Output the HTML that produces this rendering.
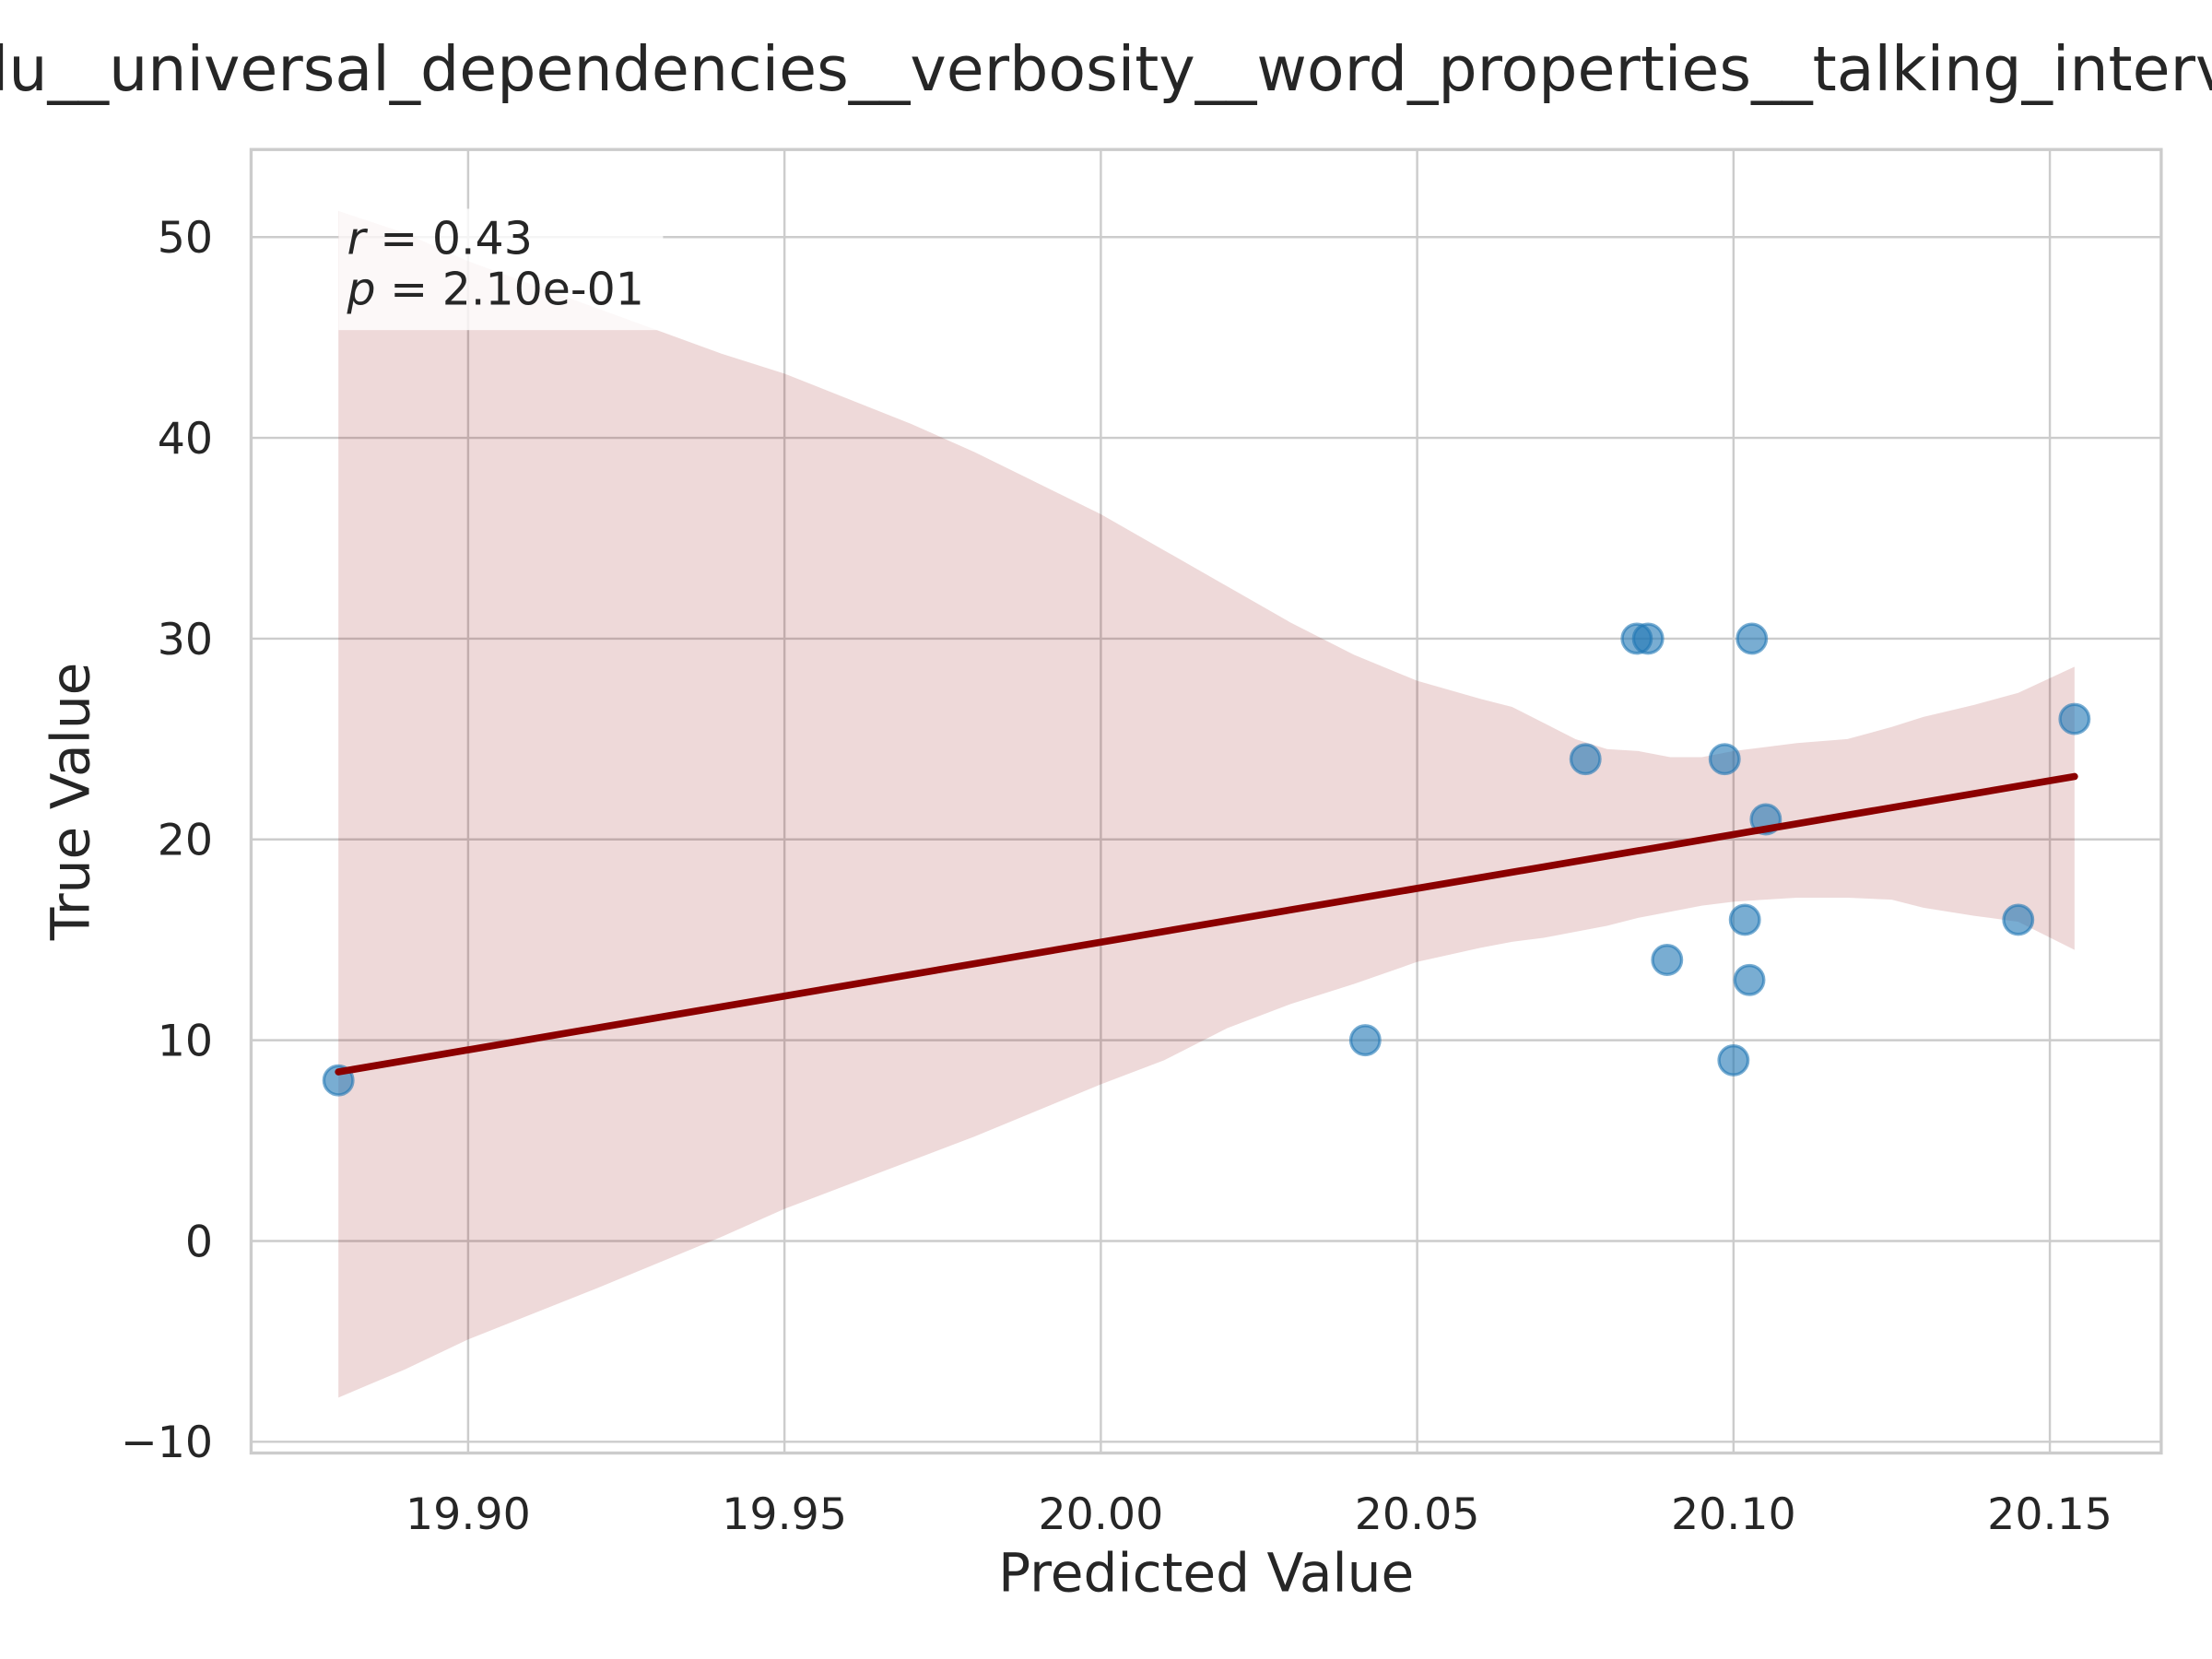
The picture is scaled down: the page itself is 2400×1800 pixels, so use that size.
<!DOCTYPE html>
<html><head><meta charset="utf-8"><style>
html,body{margin:0;padding:0;background:#fff;}
svg{display:block;font-family:"DejaVu Sans","Liberation Sans",sans-serif;}
</style></head><body>
<svg id="chart" width="2400" height="1800" viewBox="0 0 1568 1176" xmlns="http://www.w3.org/2000/svg">
<rect width="1568" height="1176" fill="#fff"/>
<text x="-6" y="64" font-size="43.5" fill="#262626">lu__universal_dependencies__verbosity__word_properties__talking_interval</text>
<g id="grid"></g>
<g id="band"></g>
<g id="points"></g>
<g id="fit"></g>
<rect x="178" y="106" width="1354" height="924" fill="none" stroke="#cccccc" stroke-width="2.2"/>
<g id="ticks"></g>
<rect x="240" y="148" width="230" height="86" fill="#fff" fill-opacity="0.8"/>
<text x="246" y="180" font-size="32" fill="#262626"><tspan font-style="italic">r</tspan> = 0.43</text>
<text x="246" y="216" font-size="32" fill="#262626"><tspan font-style="italic">p</tspan> = 2.10e-01</text>
<text x="855" y="1128" font-size="38" fill="#262626" text-anchor="middle">Predicted Value</text>
<text x="0" y="0" font-size="38" fill="#262626" text-anchor="middle" transform="translate(63,568) rotate(-90)">True Value</text>
</svg>
<script>
const predicted = [19.8795,20.0418,20.0766,20.0847,20.0865,20.0895,20.0986,20.1,20.1018,20.1025,20.1029,20.1051,20.145,20.1539];
const actual = [8,10,24,30,30,14,24,9,16,13,30,21,16,26];
const ciX = [19.8795,19.89,19.90,19.92,19.94,19.95,19.97,19.98,20.00,20.01,20.02,20.03,20.04,20.05,20.06,20.065,20.07,20.075,20.08,20.085,20.09,20.095,20.10,20.11,20.118,20.125,20.13,20.138,20.145,20.1539];
const ciUpper = [51.3,50.2,48.8,46.5,44.2,43.2,40.7,39.3,36.2,34.4,32.6,30.8,29.2,27.9,27.0,26.6,25.8,25.0,24.5,24.4,24.1,24.1,24.4,24.8,25.0,25.6,26.1,26.7,27.3,28.6];
const ciLower = [-7.8,-6.4,-4.9,-2.4,0.2,1.6,4.0,5.2,7.8,9.0,10.6,11.8,12.8,13.9,14.6,14.9,15.1,15.4,15.7,16.1,16.4,16.7,16.9,17.1,17.1,17.0,16.6,16.2,15.9,14.5];
const xTicks = [19.90,19.95,20.00,20.05,20.10,20.15];
const yTicks = [-10,0,10,20,30,40,50];

const NS="http://www.w3.org/2000/svg";
const X0=178,X1=1532,Y0=106,Y1=1030;
const xMin=19.8657,xMax=20.1676,yMin=-10.56,yMax=54.36;
const sx=v=>X0+(v-xMin)/(xMax-xMin)*(X1-X0);
const sy=v=>Y1-(v-yMin)/(yMax-yMin)*(Y1-Y0);
function mk(tag,attrs,parent){const e=document.createElementNS(NS,tag);for(const k in attrs)e.setAttribute(k,attrs[k]);parent.appendChild(e);return e;}
const grid=document.getElementById('grid'),ticks=document.getElementById('ticks');
xTicks.forEach(t=>{
  const l=mk('line',{x1:sx(t),x2:sx(t),y1:Y0,y2:Y1,stroke:'#cccccc','stroke-width':1.6},grid);
  
  
  const tx=mk('text',{x:sx(t),y:1084,'font-size':31,fill:'#262626','text-anchor':'middle'},ticks);
  tx.textContent=t.toFixed(2);
  
  
});
yTicks.forEach(t=>{
  const l=mk('line',{x1:X0,x2:X1,y1:sy(t),y2:sy(t),stroke:'#cccccc','stroke-width':1.6},grid);
  
  
  const tx=mk('text',{x:151,y:sy(t)+11,'font-size':31,fill:'#262626','text-anchor':'end'},ticks);
  tx.textContent=t<0?'\u2212'+Math.abs(t):String(t);
  
  
});
const pts=document.getElementById('points');
predicted.forEach((p,i)=>{
  const c=mk('circle',{cx:sx(p),cy:sy(actual[i]),r:10.3,fill:'#1f77b4','fill-opacity':0.6,stroke:'#1f77b4','stroke-opacity':0.6,'stroke-width':2.2},pts);
  
  
});
let d='M'+ciX.map((x,i)=>sx(x)+','+sy(ciUpper[i])).join(' L');
for(let i=ciX.length-1;i>=0;i--)d+=' L'+sx(ciX[i])+','+sy(ciLower[i]);
d+=' Z';
const band=mk('path',{d:d,fill:'#8b0000','fill-opacity':0.15},document.getElementById('band'));


const n=predicted.length,mx=predicted.reduce((a,b)=>a+b)/n,my=actual.reduce((a,b)=>a+b)/n;
let sxy=0,sxx=0;predicted.forEach((p,i)=>{sxy+=(p-mx)*(actual[i]-my);sxx+=(p-mx)*(p-mx);});
const slope=sxy/sxx,icpt=my-slope*mx;
const xa=Math.min(...predicted),xb=Math.max(...predicted);
const fl=mk('line',{x1:sx(xa),y1:sy(icpt+slope*xa),x2:sx(xb),y2:sy(icpt+slope*xb),stroke:'#8b0000','stroke-width':5,'stroke-linecap':'round'},document.getElementById('fit'));


</script>
</body></html>
